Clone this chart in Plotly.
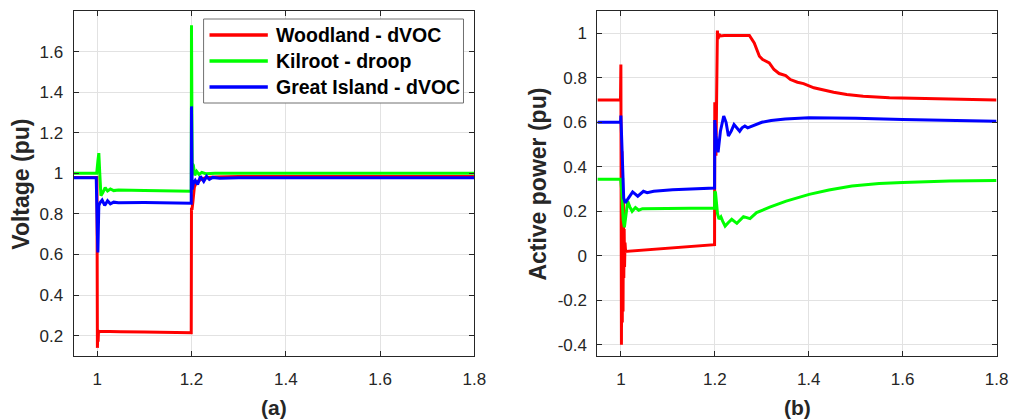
import plotly.graph_objects as go

# ---------------- Panel (a): terminal voltage (pu) ----------------
t_v_wood = [0.95, 0.9995, 1.0005, 1.0012, 1.002, 1.0028, 1.0036, 1.005, 1.01, 1.05, 1.1, 1.15,
            1.1995, 1.2, 1.201, 1.203, 1.206, 1.21, 1.215, 1.22, 1.23, 1.25, 1.3, 1.8]
v_wood = [0.98, 0.98, 0.14, 0.23, 0.17, 0.225, 0.215, 0.222, 0.222, 0.22, 0.218, 0.217,
          0.215, 0.83, 0.82, 0.86, 0.93, 0.955, 0.962, 0.97, 0.978, 0.982, 0.985, 0.985]

t_v_kil = [0.95, 0.999, 1.0015, 1.0035, 1.0055, 1.008, 1.012, 1.017, 1.022, 1.028, 1.035, 1.045,
           1.1, 1.1995, 1.2, 1.2015, 1.204, 1.207, 1.211, 1.216, 1.222, 1.23, 1.25, 1.8]
v_kil = [1.0, 1.0, 1.06, 1.10, 1.0, 0.89, 0.905, 0.93, 0.913, 0.923, 0.915, 0.918,
         0.915, 0.912, 1.73, 1.05, 1.04, 0.99, 1.01, 0.995, 1.005, 0.998, 1.0, 1.0]

t_v_gi = [0.95, 0.998, 1.0005, 1.0015, 1.0035, 1.006, 1.0105, 1.016, 1.022, 1.028, 1.035, 1.045,
          1.1, 1.1995, 1.2, 1.2015, 1.204, 1.208, 1.213, 1.219, 1.226, 1.232, 1.238, 1.245,
          1.26, 1.3, 1.8]
v_gi = [0.978, 0.978, 0.7, 0.61, 0.84, 0.855, 0.868, 0.842, 0.865, 0.85, 0.858, 0.855,
        0.856, 0.853, 1.33, 0.92, 0.95, 0.965, 0.945, 0.985, 0.96, 0.985, 0.97, 0.98,
        0.976, 0.978, 0.978]

# ---------------- Panel (b): active power (pu) ----------------
t_p_wood = [0.95, 0.9992, 1.0, 1.0012, 1.0022, 1.003, 1.0038, 1.0046, 1.0054, 1.0062, 1.007,
            1.0078, 1.0088, 1.01, 1.05, 1.1, 1.15, 1.1995, 1.2, 1.201, 1.2025, 1.2035, 1.2045,
            1.2055, 1.207, 1.209, 1.212, 1.22, 1.25, 1.2737, 1.284, 1.295, 1.302, 1.316, 1.326,
            1.337, 1.351, 1.361, 1.376, 1.389, 1.411, 1.432, 1.453, 1.481, 1.516, 1.572, 1.642, 1.8]
p_wood = [0.70, 0.70, 0.86, -0.40, 0.47, -0.3, 0.35, -0.25, 0.25, -0.1, 0.12,
          -0.05, 0.06, 0.02, 0.027, 0.034, 0.042, 0.05, 0.69, 0.66, 0.45, 0.62, 0.98,
          1.012, 0.975, 0.995, 0.988, 0.99, 0.99, 0.99, 0.957, 0.897, 0.882, 0.867, 0.837,
          0.819, 0.81, 0.792, 0.78, 0.774, 0.755, 0.744, 0.735, 0.725, 0.717, 0.71, 0.706, 0.70]

t_p_kil = [0.95, 0.9995, 1.0015, 1.005, 1.0075, 1.0105, 1.0145, 1.019, 1.024, 1.031, 1.038, 1.046,
           1.07, 1.1, 1.15, 1.1995, 1.2, 1.2015, 1.2035, 1.2057, 1.209, 1.213, 1.217, 1.222,
           1.229, 1.236, 1.247, 1.261, 1.275, 1.289, 1.317, 1.352, 1.401, 1.443, 1.492, 1.55,
           1.6, 1.7, 1.8]
p_kil = [0.344, 0.344, 0.3, 0.16, 0.128, 0.18, 0.245, 0.22, 0.2, 0.217, 0.205, 0.212,
         0.212, 0.215, 0.215, 0.215, 0.29, 0.285, 0.24, 0.19, 0.165, 0.175, 0.155, 0.134,
         0.15, 0.164, 0.146, 0.176, 0.167, 0.194, 0.219, 0.246, 0.276, 0.296, 0.314, 0.325,
         0.33, 0.336, 0.338]

t_p_gi = [0.95, 0.9995, 1.0, 1.002, 1.004, 1.006, 1.0093, 1.015, 1.025, 1.036, 1.048, 1.056,
          1.07, 1.11, 1.15, 1.1995, 1.2, 1.2025, 1.207, 1.212, 1.219, 1.224, 1.229, 1.235,
          1.241, 1.247, 1.253, 1.258, 1.264, 1.27, 1.276, 1.285, 1.3, 1.32, 1.35, 1.4, 1.45,
          1.5, 1.6, 1.7, 1.8]
p_gi = [0.60, 0.60, 0.63, 0.52, 0.33, 0.26, 0.238, 0.255, 0.287, 0.268, 0.29, 0.284,
        0.29, 0.297, 0.30, 0.305, 0.61, 0.54, 0.465, 0.56, 0.628, 0.6, 0.538, 0.56,
        0.59, 0.575, 0.56, 0.575, 0.583, 0.575, 0.58, 0.59, 0.60, 0.608, 0.615, 0.62, 0.62,
        0.618, 0.612, 0.608, 0.605]

names = ["Woodland - dVOC", "Kilroot - droop", "Great Island - dVOC"]
colors = ["#ff0000", "#00ff00", "#0000ff"]

x_ticks = [1, 1.2, 1.4, 1.6, 1.8]
x_ticktext = ["1", "1.2", "1.4", "1.6", "1.8"]
v_ticks = [0.2, 0.4, 0.6, 0.8, 1.0, 1.2, 1.4, 1.6]
v_ticktext = ["0.2", "0.4", "0.6", "0.8", "1", "1.2", "1.4", "1.6"]
p_ticks = [-0.4, -0.2, 0, 0.2, 0.4, 0.6, 0.8, 1.0]
p_ticktext = ["-0.4", "-0.2", "0", "0.2", "0.4", "0.6", "0.8", "1"]

FONT = "Arial, Liberation Sans, sans-serif"
INK = "#262626"
GRID = "#e2e2e2"
W, H = 1023, 420


def px(x):
    return x / W


def py(y):
    return 1 - y / H


fig = go.Figure()

volt = [(t_v_wood, v_wood), (t_v_kil, v_kil), (t_v_gi, v_gi)]
power = [(t_p_wood, p_wood), (t_p_kil, p_kil), (t_p_gi, p_gi)]

for (tx, vy), name, col in zip(volt, names, colors):
    fig.add_trace(go.Scatter(x=tx, y=vy, mode="lines", name=name,
                             line=dict(color=col, width=3),
                             xaxis="x", yaxis="y", showlegend=False))
for (tx, pw), name, col in zip(power, names, colors):
    fig.add_trace(go.Scatter(x=tx, y=pw, mode="lines", name=name,
                             line=dict(color=col, width=3),
                             xaxis="x2", yaxis="y2", showlegend=False))

axis_common = dict(
    showgrid=True, gridcolor=GRID, gridwidth=1,
    showline=True, linecolor=INK, linewidth=1, mirror="ticks",
    ticks="inside", ticklen=5, tickcolor=INK, tickwidth=1,
    zeroline=False,
    tickfont=dict(family=FONT, size=17, color=INK),
)

y_dom = [0.1524, 0.9738]
fig.update_layout(
    width=W, height=H,
    margin=dict(l=0, r=0, t=0, b=0),
    paper_bgcolor="white", plot_bgcolor="white",
    font=dict(family=FONT, color=INK),
    xaxis=dict(domain=[0.0728, 0.4692], range=[0.95, 1.8], anchor="y",
               tickvals=x_ticks, ticktext=x_ticktext, ticklabelstandoff=8, **axis_common),
    yaxis=dict(domain=y_dom, range=[0.1, 1.8], anchor="x",
               tickvals=v_ticks, ticktext=v_ticktext, ticklabelstandoff=6, **axis_common),
    xaxis2=dict(domain=[0.5909, 0.9857], range=[0.95, 1.8], anchor="y2",
                tickvals=x_ticks, ticktext=x_ticktext, ticklabelstandoff=8, **axis_common),
    yaxis2=dict(domain=y_dom, range=[-0.45, 1.1], anchor="x2",
                tickvals=p_ticks, ticktext=p_ticktext, ticklabelstandoff=6, **axis_common),
    showlegend=False,
)

# Legend box for panel (a): frame, line swatches and bold labels
fig.add_shape(type="rect", xref="paper", yref="paper",
              x0=px(206), x1=px(469), y0=py(103), y1=py(19),
              line=dict(color="#707070", width=1), fillcolor="white", layer="above")
for i, (name, col) in enumerate(zip(names, colors)):
    yc = 35 + 26 * i
    fig.add_shape(type="line", xref="paper", yref="paper",
                  x0=px(212), x1=px(271), y0=py(yc), y1=py(yc),
                  line=dict(color=col, width=3.5), layer="above")
    fig.add_annotation(text=name, x=px(277), y=py(yc), xref="paper", yref="paper",
                       showarrow=False, xanchor="left", yanchor="middle",
                       font=dict(family=FONT, size=19.5, color="black", weight="bold"))

fig.add_annotation(text="Voltage (pu)", x=px(21), y=py(184), xref="paper", yref="paper",
                   textangle=-90, showarrow=False, xanchor="center", yanchor="middle",
                   font=dict(family=FONT, size=23, color=INK, weight="bold"))
fig.add_annotation(text="Active power (pu)", x=px(544), y=py(184), xref="paper", yref="paper",
                   textangle=-90, showarrow=False, xanchor="center", yanchor="middle",
                   font=dict(family=FONT, size=23, color=INK, weight="bold"))
fig.add_annotation(text="(a)", x=px(277), y=py(407), xref="paper", yref="paper",
                   showarrow=False, xanchor="center", yanchor="middle",
                   font=dict(family=FONT, size=21, color=INK, weight="bold"))
fig.add_annotation(text="(b)", x=px(806.5), y=py(407), xref="paper", yref="paper",
                   showarrow=False, xanchor="center", yanchor="middle",
                   font=dict(family=FONT, size=21, color=INK, weight="bold"))

fig.write_html("out.html")
